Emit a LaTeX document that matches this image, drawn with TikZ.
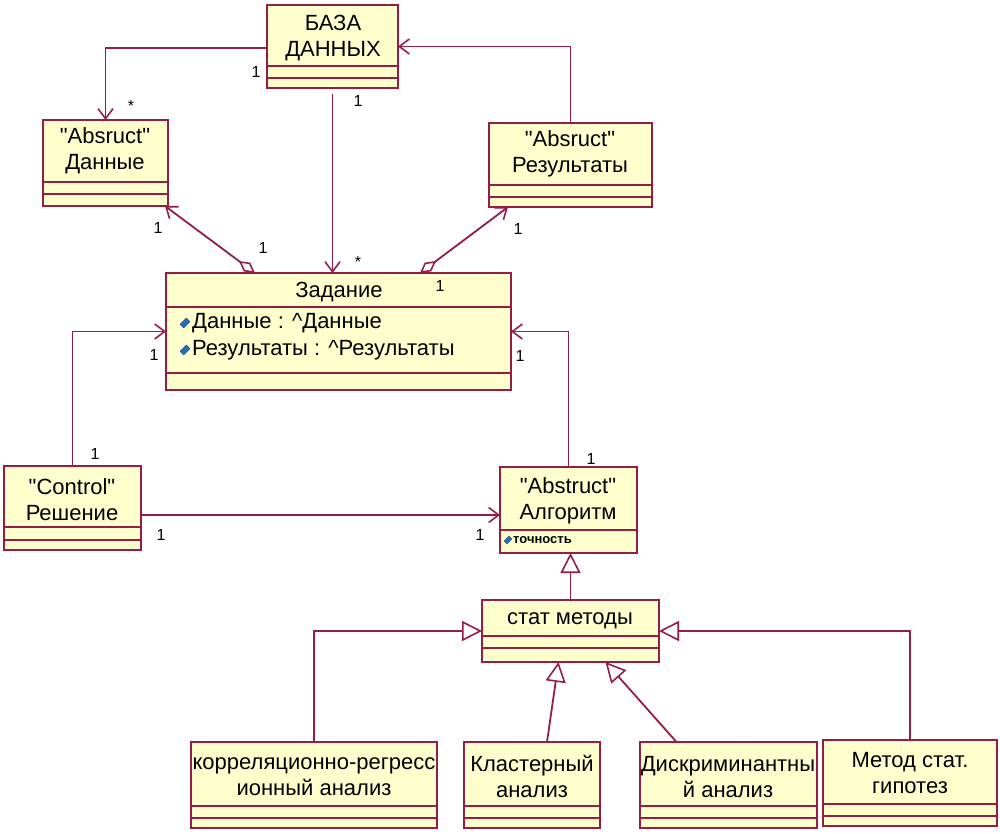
\documentclass[tikz,border=0pt]{standalone}
\usepackage{fontspec}
\setmainfont{Liberation Sans}[Ligatures=TeXOff]
\usetikzlibrary{arrows.meta,calc}
\definecolor{umlred}{RGB}{150,30,70}
\definecolor{umlfill}{RGB}{255,255,206}
\definecolor{iconblue}{RGB}{40,110,190}
\begin{document}
\begin{tikzpicture}[x=1pt,y=-1pt,
  umlbox/.style={draw=umlred,fill=umlfill,line width=2pt,inner sep=0pt,outer sep=0pt,anchor=north west},
  txt/.style={font=\fontsize{22}{26}\selectfont,align=center,inner sep=0pt},
  attr/.style={font=\fontsize{22}{26}\selectfont,anchor=west,inner sep=0pt},
  mult/.style={font=\fontsize{16}{18}\selectfont,inner sep=0pt},
  con/.style={draw=umlred,line width=1.8pt},
  barb/.tip={Straight Barb[length=10pt,width=15pt,line width=1.6pt]},
  assoc/.style={con,-barb},
  gen/.style={con,-{Triangle[open,length=20pt,width=20pt,fill=white,line width=1.6pt]}},
  agg/.style={con,barb-{Diamond[open,length=20pt,width=11pt,fill=white,line width=1.6pt]}},
  icon/.style={fill=iconblue,draw=iconblue!60!black,rotate=45,minimum width=9pt,minimum height=5pt,inner sep=0pt}
]
\useasboundingbox (0,0) rectangle (1000,834);
\fill[white] (0,0) rectangle (1000,834);

% ---- boxes ----
\node[umlbox,minimum width=131pt,minimum height=83pt] (db) at (267,5) {};
\node[umlbox,minimum width=125pt,minimum height=86pt] (dat) at (43,120) {};
\node[umlbox,minimum width=163pt,minimum height=84pt] (res) at (489,123) {};
\node[umlbox,minimum width=345pt,minimum height=117pt] (zad) at (166,273) {};
\node[umlbox,minimum width=137pt,minimum height=84pt] (dec) at (4,466) {};
\node[umlbox,minimum width=137pt,minimum height=86pt] (alg) at (500,467) {};
\node[umlbox,minimum width=177pt,minimum height=62pt] (stat) at (482,600) {};
\node[umlbox,minimum width=246pt,minimum height=86pt] (corr) at (191,742) {};
\node[umlbox,minimum width=136pt,minimum height=86pt] (kl) at (464,742) {};
\node[umlbox,minimum width=177pt,minimum height=86pt] (dis) at (640,742) {};
\node[umlbox,minimum width=174pt,minimum height=86pt] (met) at (823,740) {};

% ---- compartment lines ----
\begin{scope}[draw=umlred,line width=2pt]
\draw (db.west |- 0,66) -- (db.east |- 0,66);
\draw (db.west |- 0,78) -- (db.east |- 0,78);
\draw (dat.west |- 0,182) -- (dat.east |- 0,182);
\draw (dat.west |- 0,194) -- (dat.east |- 0,194);
\draw (res.west |- 0,185) -- (res.east |- 0,185);
\draw (res.west |- 0,197) -- (res.east |- 0,197);
\draw (zad.west |- 0,307) -- (zad.east |- 0,307);
\draw (zad.west |- 0,373) -- (zad.east |- 0,373);
\draw (dec.west |- 0,527) -- (dec.east |- 0,527);
\draw (dec.west |- 0,540) -- (dec.east |- 0,540);
\draw (alg.west |- 0,530) -- (alg.east |- 0,530);
\draw (stat.west |- 0,636) -- (stat.east |- 0,636);
\draw (stat.west |- 0,648) -- (stat.east |- 0,648);
\draw (corr.west |- 0,806) -- (corr.east |- 0,806);
\draw (corr.west |- 0,818) -- (corr.east |- 0,818);
\draw (kl.west |- 0,806) -- (kl.east |- 0,806);
\draw (kl.west |- 0,818) -- (kl.east |- 0,818);
\draw (dis.west |- 0,806) -- (dis.east |- 0,806);
\draw (dis.west |- 0,818) -- (dis.east |- 0,818);
\draw (met.west |- 0,804) -- (met.east |- 0,804);
\draw (met.west |- 0,816) -- (met.east |- 0,816);
\end{scope}

% ---- texts ----
\node[txt] (dbt) at (333,38) {БАЗА\\ДАННЫХ};
\node[txt] (datt) at (105,151) {"Absruct"\\Данные};
\node[txt] (rest) at (570,154) {"Absruct"\\Результаты};
\node[txt] (zadt) at (339,292) {Задание};
\node[attr] (za1) at (192,323) {Данные : \textasciicircum Данные};
\node[attr] (za2) at (192,350) {Результаты : \textasciicircum Результаты};
\node[icon] (ic1) at (185,323) {};
\node[icon] (ic2) at (185,350) {};
\node[txt] (dect) at (72,500) {"Control"\\Решение};
\node[txt] (algt) at (568,501) {"Abstruct"\\Алгоритм};
\node[icon,minimum width=7pt,minimum height=4pt] (ic3) at (508,540) {};
\node[anchor=west,inner sep=0pt,font=\fontsize{13}{15}\selectfont\bfseries] (algat) at (513,540) {точность};
\node[txt] (statt) at (570,621) {стат методы};
\node[txt] (corrt) at (314,777) {корреляционно-регресс\\ионный анализ};
\node[txt] (klt) at (532,776) {Кластерный\\анализ};
\node[txt] (dist) at (728,777) {Дискриминантны\\й анализ};
\node[txt] (mett) at (910,773) {Метод стат.\\гипотез};

% ---- connectors ----
\draw[assoc] (db.west |- 0,48) -| (dat.north);
\draw[assoc] ([yshift=-6pt]db.south) -- (db.south |- zad.north);
\draw[assoc] (res.north) |- (db.east);
\draw[agg] ([xshift=-3pt]dat.south east) -- ([xshift=89pt]zad.north west);
\draw[agg] ([xshift=19pt]res.south west) -- ([xshift=-91pt]zad.north east);
\draw[assoc] (dec.north) |- (zad.west);
\draw[assoc] (alg.north) |- (zad.east);
\draw[assoc] ([yshift=-7pt]dec.east) -- ([yshift=-7pt]dec.east -| alg.west);
\draw[gen] (stat.north) -- (stat.north |- alg.south);
\draw[gen] (corr.north) |- (stat.west);
\draw[gen] (met.north) |- (stat.east);
\draw[gen] ([xshift=15pt]kl.north) -- ([xshift=-12pt]stat.south);
\draw[gen] ([xshift=-52pt]dis.north) -- ([xshift=35pt]stat.south);

% ---- multiplicities ----
\node[mult] (m1) at (256,72) {1};
\node[mult] (m2) at (131,106) {*};
\node[mult] (m3) at (358,101) {1};
\node[mult] (m4) at (358,262) {*};
\node[mult] (m5) at (158,228) {1};
\node[mult] (m6) at (263,248) {1};
\node[mult] (m7) at (518,229) {1};
\node[mult] (m8) at (440,286) {1};
\node[mult] (m9) at (154,355) {1};
\node[mult] (m10) at (520,356) {1};
\node[mult] (m11) at (95,454) {1};
\node[mult] (m12) at (591,459) {1};
\node[mult] (m13) at (161,535) {1};
\node[mult] (m14) at (480,535) {1};
\end{tikzpicture}
\end{document}
